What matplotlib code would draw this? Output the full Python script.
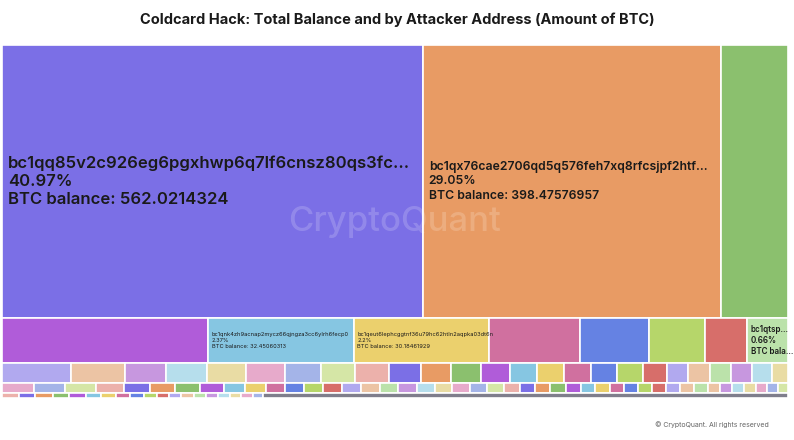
# Coldcard Hack treemap - total balance and by attacker address
import matplotlib.pyplot as plt
from matplotlib.patches import Rectangle

plt.rcParams['font.family'] = ['Inter', 'DejaVu Sans']

# Colour palette (base + lighter shades)
base = ['#7b6fe6', '#e89b64', '#8bc06e', '#b05cd9', '#86c6e2',
        '#ebd06d', '#d0709f', '#6582e3', '#b6d66a', '#d76e6a']
light = ['#b1a9ef', '#ecc4a4', '#bbe2aa', '#c797df', '#b6deec',
         '#e9dca4', '#e7aacb', '#a4b4e8', '#d5e6a6', '#ecb1ab']
grey = '#7f7e8c'

# BTC balances, one list per treemap row
row1 = [562.0214324, 398.47576957, 89.5]
row2 = [46.0, 32.45060313, 30.18461929, 20.3, 15.3, 12.4, 9.5, 9.05]
row3 = [6.6, 5.2, 4.0, 3.9, 3.8, 3.75, 3.5, 3.25, 3.25, 3.1, 2.9, 2.85, 2.8,
        2.65, 2.6, 2.6, 2.5, 2.45, 2.3, 2.1, 2.1, 2.0, 2.0, 2.0, 1.5]
row4 = [1.55, 1.52, 1.5, 1.38, 1.3, 1.22, 1.2, 1.15, 1.06, 1.0,
        0.94, 0.93, 0.93, 0.93, 0.92, 0.92, 0.9, 0.89, 0.88, 0.86,
        0.86, 0.84, 0.83, 0.76, 0.76, 0.75, 0.75, 0.73, 0.71, 0.71,
        0.7, 0.69, 0.69, 0.68, 0.68, 0.68, 0.67, 0.6, 0.59, 0.58,
        0.57, 0.54, 0.53, 0.5]
row5 = [0.41, 0.41, 0.43, 0.41, 0.41, 0.38, 0.36, 0.35, 0.35, 0.33,
        0.3, 0.3, 0.3, 0.3, 0.3, 0.3, 0.28, 0.28, 0.25, 13.0]
rows = [row1, row2, row3, row4, row5]

# Colour codes per row: bN = base, lN = light, g = grey
row1_colors = 'b1 b2 b3'
row2_colors = 'b4 b5 b6 b7 b8 b9 b10 l3'
row3_colors = ('l1 l2 l4 l5 l6 l7 l8 l9 l10 b1 b2 b3 b4 b5 b6 b7 b8 b9 b10 '
               'l1 l2 l3 l4 l5 l6')
row4_colors = ('l7 l8 l9 l10 b1 b2 b3 b4 b5 b6 b7 b8 b9 b10 l1 l2 l3 l4 l5 l6 '
               'l7 l8 l9 l10 b1 b2 b3 b4 b5 b6 b7 b8 b9 b10 l1 l2 l3 l2 l4 l5 '
               'l6 l7 l8 l9')
row5_colors = 'l10 b1 b2 b3 b4 b5 b6 b7 b8 b9 b10 l1 l2 l3 l4 l5 l6 l7 l8 g'
row_colors = [row1_colors, row2_colors, row3_colors, row4_colors, row5_colors]

# Labelled addresses: (row, index) -> address, share, balance text
addresses = {
    (0, 0): ('bc1qq85v2c926eg6pgxhwp6q7lf6cnsz80qs3fc...', '40.97%',
             'BTC balance: 562.0214324'),
    (0, 1): ('bc1qx76cae2706qd5q576feh7xq8rfcsjpf2htf...', '29.05%',
             'BTC balance: 398.47576957'),
    (1, 1): ('bc1qnk4zh9acnap2mycz66qjngza3cc6ylrh6fecp0', '2.37%',
             'BTC balance: 32.45060313'),
    (1, 2): ('bc1qeut6lephcggtnf36u79hc62htln2aqpka03dt6n', '2.2%',
             'BTC balance: 30.18461929'),
    (1, 7): ('bc1qtsp...', '0.66%', 'BTC bala...'),
}
label_style = {
    (0, 0): (12, 'semibold'),
    (0, 1): (8.8, 'semibold'),
    (1, 1): (4.1, 'normal'),
    (1, 2): (4.1, 'normal'),
    (1, 7): (5.8, 'semibold'),
}


def code_to_color(code):
    if code == 'g':
        return grey
    idx = int(code[1:]) - 1
    return base[idx] if code[0] == 'b' else light[idx]


fig = plt.figure(figsize=(7.94, 4.40), dpi=100)
ax = fig.add_axes([2 / 794, 1 - 398 / 440, 786 / 794, 353 / 440])

total = sum(sum(r) for r in rows)
ax.set_xlim(0, 1)
ax.set_ylim(total, 0)
ax.axis('off')

pad = 5 / 786

y = 0
for i, r in enumerate(rows):
    h = sum(r)
    colors = row_colors[i].split()
    x = 0
    for j, v in enumerate(r):
        w = v / h
        ax.add_patch(Rectangle((x, y), w, h, facecolor=code_to_color(colors[j]),
                               edgecolor='white', linewidth=1.2))
        if (i, j) in addresses:
            size, weight = label_style[(i, j)]
            ax.text(x + pad * (0.7 if size < 7 else 1.2), y + h / 2,
                    '\n'.join(addresses[(i, j)]),
                    ha='left', va='center', fontsize=size, fontweight=weight,
                    color='#1a1a1a', linespacing=1.25)
        x += w
    y += h

# Watermark
ax.text(0.5, 0.5, 'CryptoQuant', transform=ax.transAxes, ha='center',
        va='center', fontsize=25, fontweight='medium', color='white', alpha=0.18)

fig.text(0.5, 1 - 20 / 440,
         'Coldcard Hack: Total Balance and by Attacker Address (Amount of BTC)',
         ha='center', va='center', fontsize=10.5, fontweight='bold',
         color='#1a1a1a')

fig.text(769 / 794, 1 - 425 / 440, '\u00a9 CryptoQuant. All rights reserved',
         ha='right', va='center', fontsize=5, color='#666666')

fig.savefig('out.png', dpi=100, facecolor='white')
